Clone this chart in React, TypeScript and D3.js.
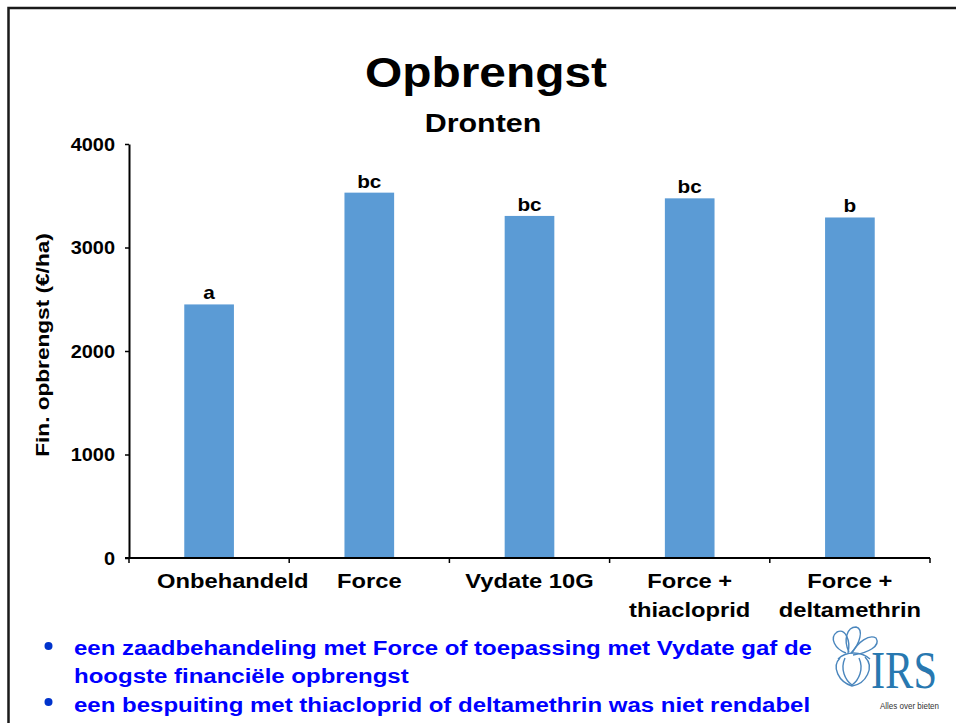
import { useEffect, useRef } from 'react'
import * as d3 from 'd3'

const categories = ['Onbehandeld', 'Force', 'Vydate 10G', 'Force + thiacloprid', 'Force + deltamethrin']
const categoryLines = [['Onbehandeld'], ['Force'], ['Vydate 10G'], ['Force +', 'thiacloprid'], ['Force +', 'deltamethrin']]
const values = [2450, 3530, 3305, 3475, 3290]
const letters = ['a', 'bc', 'bc', 'bc', 'b']
const yTicks = [0, 1000, 2000, 3000, 4000]
const bullets = [
  ['een zaadbehandeling met Force of toepassing met Vydate gaf de', 'hoogste financiële opbrengst'],
  ['een bespuiting met thiacloprid of deltamethrin was niet rendabel'],
]

const FONT = '"Liberation Sans", Arial, Helvetica, sans-serif'
const BAR = '#5B9BD5'

// the original text is rendered a bit wider than Arial
function widen(sel: any, k: number) {
  sel.each(function (this: SVGTextElement) {
    const L = this.getComputedTextLength()
    d3.select(this).attr('textLength', L * k).attr('lengthAdjust', 'spacingAndGlyphs')
  })
}

export default function App() {
  const svgRef = useRef<SVGSVGElement>(null)

  useEffect(() => {
    if (!svgRef.current) return
    const W = 956, H = 723
    const svg = d3.select(svgRef.current)
    svg.selectAll('*').remove()
    svg.attr('width', W).attr('height', H)

    const plot = { left: 129, right: 930, top: 144, bottom: 558 }

    const x = d3.scaleBand().domain(categories).range([plot.left, plot.right]).padding(0)
    const y = d3.scaleLinear().domain([0, 4000]).range([plot.bottom, plot.top])
    const barW = x.bandwidth() * 0.31
    const cx = (i: number) => x(categories[i])! + x.bandwidth() / 2

    // slide frame
    svg.append('path')
      .attr('d', `M8.5,${H} V8 H${W}`)
      .attr('fill', 'none').attr('stroke', '#1a1a1a').attr('stroke-width', 2.5)

    // titles
    svg.append('text')
      .attr('x', 486).attr('y', 87).attr('text-anchor', 'middle')
      .attr('font-family', FONT).attr('font-weight', 'bold').attr('font-size', 42)
      .text('Opbrengst')
      .call(widen, 1.14)
    svg.append('text')
      .attr('x', 483).attr('y', 132).attr('text-anchor', 'middle')
      .attr('font-family', FONT).attr('font-weight', 'bold').attr('font-size', 26)
      .text('Dronten')
      .call(widen, 1.17)

    // bars
    svg.selectAll('.bar')
      .data(values)
      .enter().append('rect')
      .attr('x', (d, i) => cx(i) - barW / 2)
      .attr('y', d => y(d))
      .attr('width', barW)
      .attr('height', d => y(0) - y(d))
      .attr('fill', BAR)

    svg.selectAll('.lbl')
      .data(values)
      .enter().append('text')
      .attr('x', (d, i) => cx(i))
      .attr('y', d => y(d) - 5)
      .attr('text-anchor', 'middle')
      .attr('font-family', FONT).attr('font-weight', 'bold').attr('font-size', 18.5)
      .text((d, i) => letters[i])
      .call(widen, 1.12)

    // y axis
    const yAxis = svg.append('g').attr('transform', `translate(${plot.left},0)`)
      .call(d3.axisLeft(y).tickValues(yTicks).tickSize(4).tickPadding(10).tickSizeOuter(0).tickFormat(d3.format('d')))
    yAxis.select('.domain').attr('stroke', '#000').attr('stroke-width', 2)
    yAxis.selectAll('.tick line').attr('stroke', '#000').attr('stroke-width', 1.5)
    yAxis.selectAll('.tick text')
      .attr('fill', '#000').attr('font-family', FONT).attr('font-weight', 'bold').attr('font-size', 17.5)
      .attr('dy', '0.36em')
      .call(widen, 1.14)

    // x axis with ticks between categories
    svg.append('line')
      .attr('x1', plot.left - 4).attr('x2', plot.right)
      .attr('y1', y(0)).attr('y2', y(0))
      .attr('stroke', '#000').attr('stroke-width', 2)
    const bounds = categories.map(c => x(c)!).concat([plot.right])
    svg.selectAll('.xt')
      .data(bounds)
      .enter().append('line')
      .attr('x1', d => d).attr('x2', d => d)
      .attr('y1', y(0)).attr('y2', y(0) + 5)
      .attr('stroke', '#000').attr('stroke-width', 1.5)

    // category labels; a label is pushed right so it starts clear of the y tick labels
    categoryLines.forEach((lines, i) => {
      lines.forEach((t, j) => {
        const el = svg.append('text')
          .attr('x', cx(i))
          .attr('y', 588 + j * 28.5)
          .attr('text-anchor', 'middle')
          .attr('font-family', FONT).attr('font-weight', 'bold').attr('font-size', 21)
          .text(t)
          .call(widen, 1.13)
        const w = +el.attr('textLength')
        if (cx(i) - w / 2 < 157) el.attr('x', 157 + w / 2)
      })
    })

    // y title
    svg.append('text')
      .attr('transform', 'translate(49,345) rotate(-90)')
      .attr('text-anchor', 'middle')
      .attr('font-family', FONT).attr('font-weight', 'bold').attr('font-size', 19)
      .text('Fin. opbrengst (€/ha)')
      .call(widen, 1.19)

    // bullet text
    let line = 0
    bullets.forEach(b => {
      svg.append('circle')
        .attr('cx', 48.5).attr('cy', 646 + line * 28)
        .attr('r', 4).attr('fill', '#0033CC')
      b.forEach(t => {
        svg.append('text')
          .attr('x', 74).attr('y', 655 + line * 28.3)
          .attr('font-family', FONT).attr('font-weight', 'bold').attr('font-size', 20)
          .attr('fill', '#0000FF')
          .text(t)
          .call(widen, 1.2)
        line++
      })
    })

    // IRS logo
    const logo = svg.append('g')
    const strokes = [
      'M846,653 C835,649 829,638 837,632 C845,628 851,640 848,653',
      'M849,652 C843,640 847,627 856,627 C864,629 860,644 851,653',
      'M852,653 C858,642 869,634 876,638 C881,646 868,653 853,655',
      'M840,658 C831,667 839,682 852,686 C866,684 875,667 865,657',
      'M845,658 C840,669 845,680 852,685',
      'M859,658 C864,669 859,680 852,685',
      'M838,659 C846,651 861,651 870,659',
    ]
    logo.selectAll('path').data(strokes).enter().append('path')
      .attr('d', d => d).attr('fill', 'none').attr('stroke', '#4a86bd').attr('stroke-width', 1.4)
    logo.append('text')
      .attr('x', 871).attr('y', 688)
      .attr('font-family', '"Liberation Serif", "Times New Roman", serif').attr('font-size', 52)
      .attr('fill', '#2878b0').attr('textLength', 66).attr('lengthAdjust', 'spacingAndGlyphs')
      .text('IRS')
    logo.append('text')
      .attr('x', 880).attr('y', 709)
      .attr('font-family', FONT).attr('font-size', 9.5)
      .attr('fill', '#333').attr('textLength', 59).attr('lengthAdjust', 'spacingAndGlyphs')
      .text('Alles over bieten')
  }, [])

  return (
    <div style={{ position: 'absolute', left: 0, top: 0, background: '#fff' }}>
      <svg ref={svgRef} style={{ display: 'block' }} />
    </div>
  )
}
